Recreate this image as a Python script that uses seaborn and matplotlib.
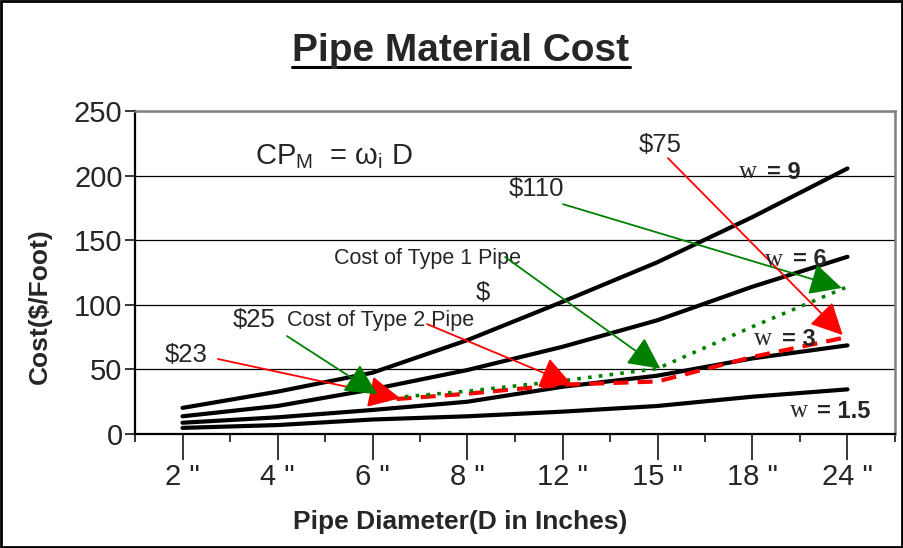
import numpy as np
import pandas as pd
import matplotlib
matplotlib.use("Agg")
import matplotlib.pyplot as plt
import seaborn as sns
from matplotlib.lines import Line2D
from matplotlib.patches import Rectangle

# ---------------- data ----------------
diameters = ['2 "', '4 "', '6 "', '8 "', '12 "', '15 "', '18 "', '24 "']
w9 = [20, 32.6, 47.3, 72.6, 102.3, 133, 168, 205.7]
w6 = [13.5, 21.5, 34.4, 49.4, 67.4, 88, 114, 137.2]
w3 = [8.5, 12.7, 18.4, 24.8, 36.4, 45, 58.4, 68.5]
w15 = [4.5, 6.7, 11, 13.5, 17.1, 21.5, 28.7, 34.4]
type_diameters = ['6 "', '8 "', '12 "', '15 "', '18 "', '24 "']
type1_cost = [26.5, 33, 41, 50.5, 83, 114]
type2_cost = [25.5, 31, 38, 40.5, 59.5, 75]
yticks = [0, 50, 100, 150, 200, 250]

sns.set_style("white")
plt.rcParams["font.family"] = ["Liberation Sans", "DejaVu Sans"]
plt.rcParams["mathtext.fontset"] = "custom"
plt.rcParams["mathtext.rm"] = "Liberation Sans"

pos = {d: i for i, d in enumerate(diameters)}
df = pd.DataFrame({
    "x": list(range(len(diameters))) * 4,
    "cost": w9 + w6 + w3 + w15,
    "w": ["9"] * 8 + ["6"] * 8 + ["3"] * 8 + ["1.5"] * 8,
})
tx = [pos[d] for d in type_diameters]

W, H = 904, 548
fig = plt.figure(figsize=(W / 100, H / 100), dpi=100)
L, R, T, B = 135, 895, 111.3, 433.7
ax = fig.add_axes([L / W, 1 - B / H, (R - L) / W, (B - T) / H])

# grid
ax.set_ylim(0, 250)
ax.set_yticks(yticks)
ax.yaxis.grid(True, color="black", lw=0.9, zorder=0)
ax.set_axisbelow(True)

for wv in ["9", "6", "3", "1.5"]:
    sub = df[df["w"] == wv]
    sns.lineplot(data=sub, x="x", y="cost", ax=ax, color="black", lw=3.0,
                 legend=False, zorder=3)

sns.lineplot(x=tx, y=type2_cost, ax=ax, color="#ff0000", lw=3.0,
             linestyle=(0, (3.6, 2.2)), legend=False, zorder=4)
sns.lineplot(x=tx, y=type1_cost, ax=ax, color="#008000", lw=2.6,
             linestyle=(0, (1.0, 2.0)), legend=False, zorder=4)

ax.set_xlim(-0.5, 7.5)
ax.set_xticks(range(len(diameters)))
ax.set_xticklabels(diameters)
ax.set_xticks(np.arange(-0.5, 8, 1.0), minor=True)
ax.tick_params(axis="x", which="major", length=19, width=1.1, pad=2,
               labelsize=21, direction="out", bottom=True, color="black")
ax.tick_params(axis="x", which="minor", length=6, width=1.1, direction="out",
               bottom=True, color="black")
ax.tick_params(axis="y", length=7, width=1.1, pad=2, labelsize=21,
               direction="out", left=True, color="black")
ax.set_xlabel("")
ax.set_ylabel("")

for s in ["left", "bottom"]:
    ax.spines[s].set_color("black")
    ax.spines[s].set_linewidth(1.6)
for s in ["top", "right"]:
    ax.spines[s].set_color("#808080")
    ax.spines[s].set_linewidth(1.8)

# ---------------- annotations ----------------
ax.text(0.76, 214.5, r"CP$_{\mathregular{M}}$  = ω$_{\mathregular{i}}$ D",
        fontsize=21, va="center", ha="left")

ann_fs = 18.5
ax.text(0.04, 61, "$23", fontsize=ann_fs, ha="center", va="center")
ax.text(0.75, 88, "$25", fontsize=ann_fs, ha="center", va="center")
ax.text(2.09, 87.6, "Cost of Type 2 Pipe", fontsize=15.5, ha="center", va="center")
ax.text(2.58, 136.2, "Cost of Type 1 Pipe", fontsize=15.5, ha="center", va="center")
ax.text(3.16, 109, "$", fontsize=ann_fs, ha="center", va="center")
ax.text(3.73, 189.7, "$110", fontsize=ann_fs, ha="center", va="center")
ax.text(5.03, 223.8, "$75", fontsize=ann_fs, ha="center", va="center")

def arrow(x0, y0, x1, y1, color):
    ax.annotate("", xy=(x1, y1), xytext=(x0, y0),
                arrowprops=dict(arrowstyle="-|>,head_length=0.9,head_width=0.45",
                                color=color, lw=1.3, shrinkA=0, shrinkB=0,
                                mutation_scale=22), zorder=6)

arrow(0.374, 57.9, 2.29, type2_cost[0] + 2, "#ff0000")
arrow(1.10, 75.7, tx[0] + 0.05, type1_cost[0] + 4, "#008000")
arrow(2.574, 85, tx[2] + 0.1, type2_cost[2], "#ff0000")
arrow(3.395, 137, tx[3] + 0.03, type1_cost[3], "#008000")
arrow(4.005, 178, tx[5] - 0.06, type1_cost[5] - 1, "#008000")
arrow(5.11, 213.7, tx[5] - 0.05, type2_cost[5] + 1.5, "#ff0000")

w_labels = [("9", 5.858, 6.153, 202.9), ("6", 6.13, 6.426, 134.7),
            ("3", 6.016, 6.31, 73.4), ("1.5", 6.395, 6.68, 17.6)]
for lab, xw, xe, yy in w_labels:
    ax.text(xw, yy, "w", family=["Liberation Serif", "DejaVu Serif"],
            fontsize=18, ha="left", va="center", zorder=7)
    ax.text(xe, yy, "= " + lab, fontsize=17, fontweight="bold",
            ha="left", va="center", zorder=7)

# axis labels
fig.text(460 / W, 1 - 522 / H, "Pipe Diameter(D in Inches)", fontsize=19,
         fontweight="bold", ha="center", va="center")
fig.text(40 / W, 1 - 306 / H, "Cost($/Foot)", fontsize=19, fontweight="bold",
         ha="center", va="center", rotation=90)

# title with underline
title = fig.text(461 / W, 1 - 61 / H, "Pipe Material Cost", fontsize=28,
                 fontweight="bold", ha="center", va="baseline")
fig.canvas.draw()
bb = title.get_window_extent()
uy = 1 - 66.5 / H
fig.add_artist(Line2D([bb.x0 / W, bb.x1 / W], [uy, uy], transform=fig.transFigure,
                      color="black", lw=2.2))

# outer border
fig.patches.append(Rectangle((0.0012, 0.002), 0.9966, 0.9955, transform=fig.transFigure,
                             fill=False, edgecolor="black", lw=2.0))

fig.savefig("out.png", dpi=100)
